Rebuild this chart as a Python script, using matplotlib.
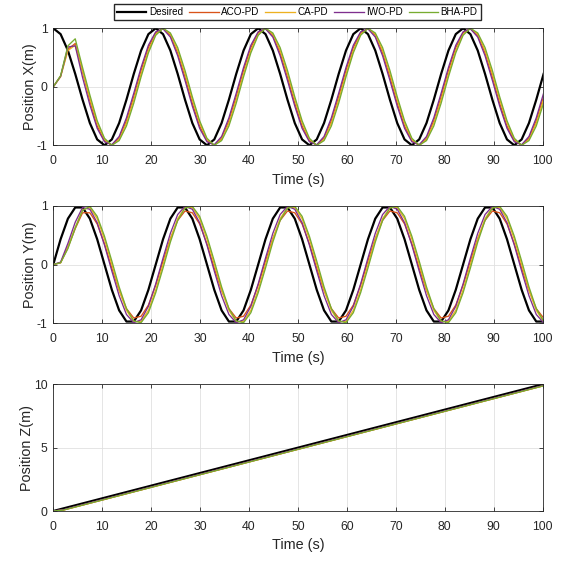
import numpy as np
import matplotlib
matplotlib.use('Agg')
import matplotlib.pyplot as plt

# Muestreo de la simulacion (14 muestras por periodo de la referencia)
t = np.linspace(0, 100.2, 68)

# Eje X: referencia y respuesta de cada controlador
desired_x = [1.00, 0.90, 0.62, 0.22, -0.22, -0.62, -0.90, -1.00, -0.90, -0.62, -0.22, 0.22, 0.62, 0.90,
             1.00, 0.90, 0.62, 0.22, -0.22, -0.62, -0.90, -1.00, -0.90, -0.62, -0.22, 0.22, 0.62, 0.90,
             1.00, 0.90, 0.62, 0.22, -0.22, -0.62, -0.90, -1.00, -0.90, -0.62, -0.22, 0.22, 0.62, 0.90,
             1.00, 0.90, 0.62, 0.22, -0.22, -0.62, -0.90, -1.00, -0.90, -0.62, -0.22, 0.22, 0.62, 0.90,
             1.00, 0.90, 0.62, 0.22, -0.22, -0.62, -0.90, -1.00, -0.90, -0.62, -0.22, 0.22]
aco_x = [0.00, 0.18, 0.64, 0.74, 0.26, -0.24, -0.67, -0.92, -1.00, -0.88, -0.58, -0.17, 0.28, 0.67,
         0.92, 1.00, 0.88, 0.58, 0.17, -0.28, -0.67, -0.92, -1.00, -0.88, -0.58, -0.17, 0.28, 0.67,
         0.92, 1.00, 0.88, 0.58, 0.17, -0.28, -0.67, -0.92, -1.00, -0.88, -0.58, -0.17, 0.28, 0.67,
         0.92, 1.00, 0.88, 0.58, 0.17, -0.28, -0.67, -0.92, -1.00, -0.88, -0.58, -0.17, 0.28, 0.67,
         0.92, 1.00, 0.88, 0.58, 0.17, -0.28, -0.67, -0.92, -1.00, -0.88, -0.58, -0.17]
ca_x = [0.00, 0.17, 0.62, 0.71, 0.27, -0.20, -0.62, -0.90, -1.00, -0.90, -0.62, -0.22, 0.22, 0.62,
        0.90, 1.00, 0.90, 0.62, 0.22, -0.22, -0.62, -0.90, -1.00, -0.90, -0.62, -0.22, 0.22, 0.62,
        0.90, 1.00, 0.90, 0.62, 0.22, -0.22, -0.62, -0.90, -1.00, -0.90, -0.62, -0.22, 0.22, 0.62,
        0.90, 1.00, 0.90, 0.62, 0.22, -0.22, -0.62, -0.90, -1.00, -0.90, -0.62, -0.22, 0.22, 0.62,
        0.90, 1.00, 0.90, 0.62, 0.22, -0.22, -0.62, -0.90, -1.00, -0.90, -0.62, -0.22]
iwo_x = [0.00, 0.18, 0.68, 0.70, 0.16, -0.31, -0.71, -0.94, -0.99, -0.85, -0.53, -0.11, 0.33, 0.71,
         0.94, 0.99, 0.85, 0.53, 0.11, -0.33, -0.71, -0.94, -0.99, -0.85, -0.53, -0.11, 0.33, 0.71,
         0.94, 0.99, 0.85, 0.53, 0.11, -0.33, -0.71, -0.94, -0.99, -0.85, -0.53, -0.11, 0.33, 0.71,
         0.94, 0.99, 0.85, 0.53, 0.11, -0.33, -0.71, -0.94, -0.99, -0.85, -0.53, -0.11, 0.33, 0.71,
         0.94, 0.99, 0.85, 0.53, 0.11, -0.33, -0.71, -0.94, -0.99, -0.85, -0.53, -0.11]
bha_x = [0.00, 0.19, 0.70, 0.82, 0.33, -0.14, -0.58, -0.88, -1.00, -0.92, -0.67, -0.28, 0.17, 0.58,
         0.88, 1.00, 0.92, 0.67, 0.28, -0.17, -0.58, -0.88, -1.00, -0.92, -0.67, -0.28, 0.17, 0.58,
         0.88, 1.00, 0.92, 0.67, 0.28, -0.17, -0.58, -0.88, -1.00, -0.92, -0.67, -0.28, 0.17, 0.58,
         0.88, 1.00, 0.92, 0.67, 0.28, -0.17, -0.58, -0.88, -1.00, -0.92, -0.67, -0.28, 0.17, 0.58,
         0.88, 1.00, 0.92, 0.67, 0.28, -0.17, -0.58, -0.88, -1.00, -0.92, -0.67, -0.28]

# Eje Y
desired_y = [0.00, 0.43, 0.78, 0.97, 0.97, 0.78, 0.43, 0.00, -0.43, -0.78, -0.97, -0.97, -0.78, -0.43,
             0.00, 0.43, 0.78, 0.97, 0.97, 0.78, 0.43, 0.00, -0.43, -0.78, -0.97, -0.97, -0.78, -0.43,
             0.00, 0.43, 0.78, 0.97, 0.97, 0.78, 0.43, 0.00, -0.43, -0.78, -0.97, -0.97, -0.78, -0.43,
             0.00, 0.43, 0.78, 0.97, 0.97, 0.78, 0.43, 0.00, -0.43, -0.78, -0.97, -0.97, -0.78, -0.43,
             0.00, 0.43, 0.78, 0.97, 0.97, 0.78, 0.43, 0.00, -0.43, -0.78, -0.97, -0.97]
aco_y = [0.00, 0.03, 0.29, 0.61, 0.88, 0.88, 0.69, 0.35, -0.06, -0.44, -0.75, -0.91, -0.88, -0.69,
         -0.35, 0.06, 0.44, 0.75, 0.91, 0.88, 0.69, 0.35, -0.06, -0.44, -0.75, -0.91, -0.88, -0.69,
         -0.35, 0.06, 0.44, 0.75, 0.91, 0.88, 0.69, 0.35, -0.06, -0.44, -0.75, -0.91, -0.88, -0.69,
         -0.35, 0.06, 0.44, 0.75, 0.91, 0.88, 0.69, 0.35, -0.06, -0.44, -0.75, -0.91, -0.88, -0.69,
         -0.35, 0.06, 0.44, 0.75, 0.91, 0.88, 0.69, 0.35, -0.06, -0.44, -0.75, -0.91]
ca_y = [0.00, 0.03, 0.30, 0.63, 0.93, 0.97, 0.78, 0.43, 0.00, -0.43, -0.78, -0.97, -0.97, -0.78,
        -0.43, 0.00, 0.43, 0.78, 0.97, 0.97, 0.78, 0.43, 0.00, -0.43, -0.78, -0.97, -0.97, -0.78,
        -0.43, 0.00, 0.43, 0.78, 0.97, 0.97, 0.78, 0.43, 0.00, -0.43, -0.78, -0.97, -0.97, -0.78,
        -0.43, 0.00, 0.43, 0.78, 0.97, 0.97, 0.78, 0.43, 0.00, -0.43, -0.78, -0.97, -0.97, -0.78,
        -0.43, 0.00, 0.43, 0.78, 0.97, 0.97, 0.78, 0.43, 0.00, -0.43, -0.78, -0.97]
iwo_y = [0.00, 0.04, 0.36, 0.72, 0.97, 0.94, 0.71, 0.33, -0.11, -0.53, -0.85, -0.99, -0.94, -0.71,
         -0.33, 0.11, 0.53, 0.85, 0.99, 0.94, 0.71, 0.33, -0.11, -0.53, -0.85, -0.99, -0.94, -0.71,
         -0.33, 0.11, 0.53, 0.85, 0.99, 0.94, 0.71, 0.33, -0.11, -0.53, -0.85, -0.99, -0.94, -0.71,
         -0.33, 0.11, 0.53, 0.85, 0.99, 0.94, 0.71, 0.33, -0.11, -0.53, -0.85, -0.99, -0.94, -0.71,
         -0.33, 0.11, 0.53, 0.85, 0.99, 0.94, 0.71, 0.33, -0.11, -0.53, -0.85, -0.99]
bha_y = [0.00, 0.03, 0.27, 0.62, 0.92, 0.99, 0.82, 0.48, 0.06, -0.38, -0.75, -0.96, -0.99, -0.82,
         -0.48, -0.06, 0.38, 0.75, 0.96, 0.99, 0.82, 0.48, 0.06, -0.38, -0.75, -0.96, -0.99, -0.82,
         -0.48, -0.06, 0.38, 0.75, 0.96, 0.99, 0.82, 0.48, 0.06, -0.38, -0.75, -0.96, -0.99, -0.82,
         -0.48, -0.06, 0.38, 0.75, 0.96, 0.99, 0.82, 0.48, 0.06, -0.38, -0.75, -0.96, -0.99, -0.82,
         -0.48, -0.06, 0.38, 0.75, 0.96, 0.99, 0.82, 0.48, 0.06, -0.38, -0.75, -0.96]

# Eje Z (rampa)
t_z = [0, 2, 100]
desired_z = [0.0, 0.2, 10.0]
aco_z = [0.0, 0.07, 9.87]
ca_z = [0.0, 0.07, 9.87]
iwo_z = [0.0, 0.10, 9.90]
bha_z = [0.0, 0.07, 9.87]

nombres = ['Desired', 'ACO-PD', 'CA-PD', 'IWO-PD', 'BHA-PD']
colores = ['#000000', '#D95319', '#EDB120', '#7E2F8E', '#77AC30']

plt.rcParams['font.family'] = ['Liberation Sans', 'DejaVu Sans']
plt.rcParams['axes.unicode_minus'] = False
fig = plt.figure(figsize=(5.62, 5.61), dpi=100)

paneles = [
    ([0.0948, 0.741, 0.8707, 0.2086], t, [desired_x, aco_x, ca_x, iwo_x, bha_x],
     'Position X(m)', (-1, 1), [-1, 0, 1]),
    ([0.0948, 0.4237, 0.8707, 0.2096], t, [desired_y, aco_y, ca_y, iwo_y, bha_y],
     'Position Y(m)', (-1, 1), [-1, 0, 1]),
    ([0.0948, 0.0891, 0.8707, 0.2258], t_z, [desired_z, aco_z, ca_z, iwo_z, bha_z],
     'Position Z(m)', (0, 10), [0, 5, 10]),
]

for pos, tiempo, curvas, etiqueta, limites, yticks in paneles:
    ax = fig.add_axes(pos)
    for y, nombre, color in zip(curvas, nombres, colores):
        ancho = 1.6 if nombre == 'Desired' else 0.95
        ax.plot(tiempo, y, color=color, lw=ancho, label=nombre)
    ax.set_xlim(0, 100)
    ax.set_ylim(*limites)
    ax.set_xticks(range(0, 101, 10))
    ax.set_yticks(yticks)
    ax.grid(True, color='#e0e0e0', lw=0.6)
    ax.set_axisbelow(True)
    ax.tick_params(direction='in', length=3, width=0.6, top=True, right=True,
                   labelsize=8.8, colors='#262626')
    ax.tick_params(axis='x', pad=7)
    ax.tick_params(axis='y', pad=4)
    for borde in ax.spines.values():
        borde.set_color('#262626')
        borde.set_linewidth(0.6)
    ax.set_xlabel('Time (s)', fontsize=10.4, color='#262626', labelpad=4)
    ax.set_ylabel(etiqueta, fontsize=10.4, color='#262626', labelpad=0)

# Leyenda comun arriba
lineas, textos = ax.get_legend_handles_labels()
fig.legend(lineas, textos, loc='upper center', bbox_to_anchor=(0.529, 0.992), ncol=5,
           fontsize=7.1, frameon=True, fancybox=False, handlelength=3.0,
           handletextpad=0.25, columnspacing=0.6, borderpad=0.3, borderaxespad=0,
           edgecolor='#262626', framealpha=1)

fig.savefig('out.png', dpi=100)
plt.close(fig)
